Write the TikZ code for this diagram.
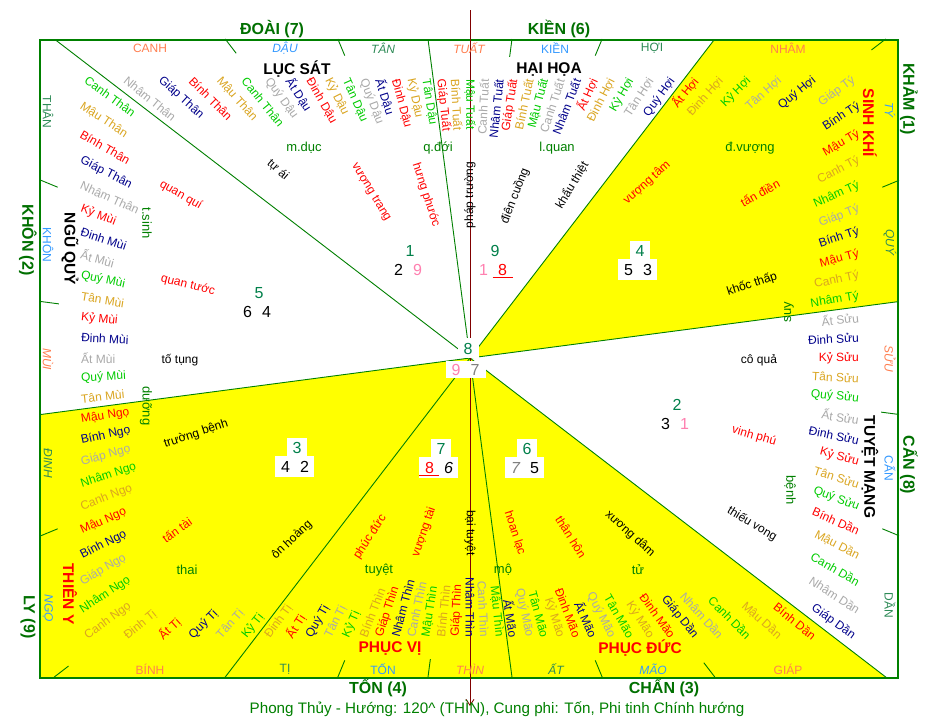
\documentclass[tikz,border=0pt]{standalone}
\usepackage{fontspec}
\setmainfont{Liberation Sans}
\usetikzlibrary{arrows.meta}
\definecolor{kimc}{HTML}{A9A9A9}
\definecolor{thuyc}{HTML}{00008B}
\definecolor{hoac}{HTML}{FF0000}
\definecolor{thoc}{HTML}{DAA520}
\definecolor{mocc}{HTML}{00CC00}
\definecolor{coral}{HTML}{FF7F50}
\definecolor{dblue}{HTML}{3399FF}
\definecolor{tgreen}{HTML}{2E8B57}
\definecolor{fgreen}{HTML}{008000}
\definecolor{dgreen}{HTML}{00804A}
\definecolor{tgram}{HTML}{007000}
\definecolor{yel}{HTML}{FFFF00}
\definecolor{pinkd}{HTML}{FF80B0}
\definecolor{brn}{HTML}{800000}
\newcommand\fpx[1]{\fontsize{#1}{#1}\selectfont}
\tikzset{
  pk/.style={font=\fpx{12},inner sep=0pt},
  ekim/.style={text=kimc}, ethuy/.style={text=thuyc}, ehoa/.style={text=hoac},
  etho/.style={text=thoc}, emoc/.style={text=mocc},
  mtn/.style={font=\fpx{12},inner sep=0pt},
  tgl/.style={font=\bfseries\fpx{16},text=tgram,inner sep=0pt},
  sect/.style={font=\bfseries\fpx{15.5},inner sep=0pt},
  star/.style={font=\fpx{12},inner sep=0pt},
  stg/.style={font=\fpx{13},text=fgreen,inner sep=0pt},
  dg/.style={font=\fpx{16},inner sep=0pt},
  gl/.style={draw=fgreen,line width=0.9pt},
}
\newcommand\pk[3]{%
 \pgfmathsetmacro\pkTh{mod(36-3*(#1)+720,360)}%
 \pgfmathsetmacro\pkC{cos(\pkTh)}%
 \pgfmathsetmacro\pkS{sin(\pkTh)}%
 \pgfmathsetmacro\pkT{min(389/max(abs(\pkC),0.03),279/max(abs(\pkS),0.03))}%
 \pgfmathsetmacro\pkX{470+\pkT*\pkC}%
 \pgfmathsetmacro\pkY{358-\pkT*\pkS}%
 \pgfmathtruncatemacro\pkK{#1}%
 \pgfmathtruncatemacro\pkL{(\pkTh>=90)&&(\pkTh<270)}%
 \ifnum\pkL=1
  \node[pk,#3,anchor=west,rotate=\pkTh-180] (pk\pkK) at (\pkX,\pkY) {#2};%
 \else
  \node[pk,#3,anchor=east,rotate=\pkTh] (pk\pkK) at (\pkX,\pkY) {#2};%
 \fi}
\newcommand\pkp[4]{\pk{5*#1+#2}{#3}{#4}\pk{5*#1+5+#2}{#3}{#4}}
\newcommand\fsg[6]{%
 \fill[white] (#2-10,#3-10) rectangle (#2+10,#3+9);
 \fill[white] (#2-22,#3+8) rectangle (#2+17,#3+29);
 \node[dg,text=dgreen] (#1t) at (#2,#3) {#4};
 \node[dg] (#1l) at (#2-11.5,#3+19) {#5};
 \node[dg] (#1r) at (#2+7.5,#3+19) {#6};}
\begin{document}
\begin{tikzpicture}[x=1pt,y=-1pt]
\useasboundingbox (0,0) rectangle (938,718);
\fill[white] (0,0) rectangle (938,718);
\coordinate (O) at (470,358);
% yellow sectors
\fill[yel] (O) -- (714,40) -- (898,40) -- (898,301.65) -- cycle;
\fill[yel] (O) -- (887,678) -- (512.1,678) -- cycle;
\fill[yel] (O) -- (512.1,678) -- (224.5,678) -- cycle;
\fill[yel] (O) -- (224.5,678) -- (40,678) -- (40,414.6) -- cycle;
% trigram boundary lines
\foreach \p in {(898,301.65),(714,40),(428.1,40),(55.6,40),(40,414.6),(224.5,678),(512.1,678),(887,678)}
  \draw[gl] (O) -- \p;
% ticks
\foreach \a in {37.5,22.5,-7.5,-22.5,-52.5,-67.5,-97.5,-112.5,-142.5,-157.5,172.5,157.5,127.5,112.5,82.5,67.5}{
  \pgfmathsetmacro\tc{cos(\a)}
  \pgfmathsetmacro\tS{sin(\a)}
  \pgfmathsetmacro\tT{min(429/max(abs(\tc),0.03),319/max(abs(\tS),0.03))}
  \draw[gl] ({470+\tT*\tc},{358-\tT*\tS}) -- ({470+(\tT-18)*\tc},{358-(\tT-18)*\tS});
}
% frame
\draw[fgreen,line width=1.3pt] (40,40) rectangle (898,678);
% axis
\draw[brn,line width=0.8pt,-{Straight Barb[length=6pt,width=8pt]}] (470,10) -- (470,706);
% 120 labels
\pkp{0}{0}{Giáp Tý}{ekim}\pkp{0}{1}{Bính Tý}{ethuy}\pkp{0}{2}{Mậu Tý}{ehoa}\pkp{0}{3}{Canh Tý}{etho}\pkp{0}{4}{Nhâm Tý}{emoc}
\pkp{2}{0}{Ất Sửu}{ekim}\pkp{2}{1}{Đinh Sửu}{ethuy}\pkp{2}{2}{Kỷ Sửu}{ehoa}\pkp{2}{3}{Tân Sửu}{etho}\pkp{2}{4}{Quý Sửu}{emoc}
\pkp{4}{0}{Bính Dần}{ehoa}\pkp{4}{1}{Mậu Dần}{etho}\pkp{4}{2}{Canh Dần}{emoc}\pkp{4}{3}{Nhâm Dần}{ekim}\pkp{4}{4}{Giáp Dần}{ethuy}
\pkp{6}{0}{Đinh Mão}{ehoa}\pkp{6}{1}{Kỷ Mão}{etho}\pkp{6}{2}{Tân Mão}{emoc}\pkp{6}{3}{Quý Mão}{ekim}\pkp{6}{4}{Ất Mão}{ethuy}
\pkp{8}{0}{Mậu Thìn}{emoc}\pkp{8}{1}{Canh Thìn}{ekim}\pkp{8}{2}{Nhâm Thìn}{ethuy}\pkp{8}{3}{Giáp Thìn}{ehoa}\pkp{8}{4}{Bính Thìn}{etho}
\pkp{10}{0}{Kỷ Tị}{emoc}\pkp{10}{1}{Tân Tị}{ekim}\pkp{10}{2}{Quý Tị}{ethuy}\pkp{10}{3}{Ất Tị}{ehoa}\pkp{10}{4}{Đinh Tị}{etho}
\pkp{12}{0}{Canh Ngọ}{etho}\pkp{12}{1}{Nhâm Ngọ}{emoc}\pkp{12}{2}{Giáp Ngọ}{ekim}\pkp{12}{3}{Bính Ngọ}{ethuy}\pkp{12}{4}{Mậu Ngọ}{ehoa}
\pkp{14}{0}{Tân Mùi}{etho}\pkp{14}{1}{Quý Mùi}{emoc}\pkp{14}{2}{Ất Mùi}{ekim}\pkp{14}{3}{Đinh Mùi}{ethuy}\pkp{14}{4}{Kỷ Mùi}{ehoa}
\pkp{16}{0}{Nhâm Thân}{ekim}\pkp{16}{1}{Giáp Thân}{ethuy}\pkp{16}{2}{Bính Thân}{ehoa}\pkp{16}{3}{Mậu Thân}{etho}\pkp{16}{4}{Canh Thân}{emoc}
\pkp{18}{0}{Quý Dậu}{ekim}\pkp{18}{1}{Ất Dậu}{ethuy}\pkp{18}{2}{Đinh Dậu}{ehoa}\pkp{18}{3}{Kỷ Dậu}{etho}\pkp{18}{4}{Tân Dậu}{emoc}
\pkp{20}{0}{Giáp Tuất}{ehoa}\pkp{20}{1}{Bính Tuất}{etho}\pkp{20}{2}{Mậu Tuất}{emoc}\pkp{20}{3}{Canh Tuất}{ekim}\pkp{20}{4}{Nhâm Tuất}{ethuy}
\pkp{22}{0}{Ất Hợi}{ehoa}\pkp{22}{1}{Đinh Hợi}{etho}\pkp{22}{2}{Kỷ Hợi}{emoc}\pkp{22}{3}{Tân Hợi}{ekim}\pkp{22}{4}{Quý Hợi}{ethuy}
% 24 mountains
\node[mtn,text=coral] (mCanh) at (150,48) {CANH};
\node[mtn,text=dblue,font=\itshape\fpx{12}] (mDau) at (285,48) {DẬU};
\node[mtn,text=tgreen,font=\itshape\fpx{12}] (mTan) at (383,48) {TÂN};
\node[mtn,text=coral,font=\itshape\fpx{12}] (mTuat) at (469,48) {TUẤT};
\node[mtn,text=dblue] (mKien) at (555,48) {KIỀN};
\node[mtn,text=tgreen] (mHoi) at (652,48) {HỢI};
\node[mtn,text=coral] (mNham) at (788,48) {NHÂM};
\node[mtn,text=dblue,font=\itshape\fpx{12},rotate=-90] (mTy) at (890,110) {TÝ};
\node[mtn,text=tgreen,font=\itshape\fpx{12},rotate=-90] (mQuy) at (890,242) {QUÝ};
\node[mtn,text=coral,font=\itshape\fpx{12},rotate=-90] (mSuu) at (890,359) {SỬU};
\node[mtn,text=dblue,rotate=-90] (mCan) at (890,468) {CẤN};
\node[mtn,text=tgreen,rotate=-90] (mDan) at (890,605) {DẦN};
\node[mtn,text=coral] (mBinh) at (150,669) {BÍNH};
\node[mtn,text=tgreen] (mTi) at (285,669) {TỊ};
\node[mtn,text=dblue] (mTon) at (383,669) {TỐN};
\node[mtn,text=coral,font=\itshape\fpx{12}] (mThin) at (470,669) {THÌN};
\node[mtn,text=tgreen,font=\itshape\fpx{12}] (mAt) at (556,669) {ẤT};
\node[mtn,text=dblue,font=\itshape\fpx{12}] (mMao) at (653,669) {MÃO};
\node[mtn,text=coral] (mGiap) at (788,669) {GIÁP};
\node[mtn,text=tgreen,rotate=-90] (mThan) at (48,112) {THÂN};
\node[mtn,text=dblue,rotate=-90] (mKhon) at (48,245) {KHÔN};
\node[mtn,text=coral,font=\itshape\fpx{12},rotate=-90] (mMui) at (48,359) {MÙI};
\node[mtn,text=tgreen,font=\itshape\fpx{12},rotate=-90] (mDinh) at (48,463) {ĐINH};
\node[mtn,text=dblue,font=\itshape\fpx{12},rotate=-90] (mNgo) at (48,608) {NGỌ};
% trigram labels
\node[tgl] (tDoai) at (272,29) {ĐOÀI (7)};
\node[tgl] (tKien) at (559,29) {KIỀN (6)};
\node[tgl,rotate=-90] (tKham) at (909,99) {KHẢM (1)};
\node[tgl,rotate=-90] (tCan) at (909,465) {CẤN (8)};
\node[tgl] (tChan) at (664,688) {CHẤN (3)};
\node[tgl] (tTon) at (378,688) {TỐN (4)};
\node[tgl,rotate=-90] (tLy) at (28,617) {LY (9)};
\node[tgl,rotate=-90] (tKhon) at (28,240) {KHÔN (2)};
% sector names
\node[sect] (nLS) at (297,69) {LỤC SÁT};
\node[sect] (nHH) at (549,69) {HẠI HỌA};
\node[sect,text=red,rotate=-90] (nSK) at (870,123) {SINH KHÍ};
\node[sect,rotate=-90] (nTM) at (870,467) {TUYỆT MẠNG};
\node[sect,text=red] (nPD) at (640,648) {PHỤC ĐỨC};
\node[sect,text=red] (nPV) at (390,648) {PHỤC VỊ};
\node[sect,text=red,rotate=-90] (nTY) at (70,594) {THIÊN Y};
\node[sect,rotate=-90] (nNQ) at (70,249) {NGŨ QUỶ};
% 12 stages
\node[stg] (g1) at (304,148) {m.dục};
\node[stg] (g2) at (438,148) {q.đới};
\node[stg] (g3) at (557,148) {l.quan};
\node[stg] (g4) at (750,148) {đ.vượng};
\node[stg,rotate=90] (g5) at (789,312) {suy};
\node[stg,rotate=-90] (g6) at (790,490) {bệnh};
\node[stg] (g7) at (638,570) {tử};
\node[stg] (g8) at (503,570) {mộ};
\node[stg] (g9) at (379,570) {tuyệt};
\node[stg] (g10) at (187,570) {thai};
\node[stg,rotate=-90] (g11) at (146,406) {dưỡng};
\node[stg,rotate=-90] (g12) at (147,223) {t.sinh};
% 24 stars
\node[star,text=black,rotate=-41] (s1) at (278,170) {tự ái};
\node[star,text=red,rotate=-59] (s2) at (371,192) {vượng trang};
\node[star,text=red,rotate=-72] (s3) at (426,195) {hưng phước};
\node[star,text=black,rotate=90] (s4) at (470,195) {pháp trường};
\node[star,text=black,rotate=69] (s5) at (515,196) {điên cuồng};
\node[star,text=black,rotate=59] (s6) at (572,185) {khẩu thiệt};
\node[star,text=red,rotate=42] (s7) at (647,183) {vượng tâm};
\node[star,text=red,rotate=29] (s8) at (760,193) {tấn điền};
\node[star,text=black,rotate=18] (s9) at (752,284) {khốc thấp};
\node[star,text=black] (s10) at (759,360) {cô quả};
\node[star,text=red,rotate=-16] (s11) at (754,436) {vinh phú};
\node[star,text=black,rotate=-31] (s12) at (752,524) {thiếu vong};
\node[star,text=black,rotate=-42] (s13) at (630,534) {xương dâm};
\node[star,text=red,rotate=-58] (s14) at (571,537) {thân hôn};
\node[star,text=red,rotate=-72] (s15) at (515,533) {hoan lạc};
\node[star,text=black,rotate=-90] (s16) at (470,533) {bại tuyệt};
\node[star,text=red,rotate=71] (s17) at (424,532) {vượng tài};
\node[star,text=red,rotate=57] (s18) at (370,537) {phúc đức};
\node[star,text=black,rotate=43] (s19) at (292,540) {ôn hoàng};
\node[star,text=red,rotate=35] (s20) at (177,530) {tấn tài};
\node[star,text=black,rotate=18] (s21) at (196,434) {trường bệnh};
\node[star,text=black] (s22) at (180,360) {tố tụng};
\node[star,text=red,rotate=-14] (s23) at (188,285) {quan tước};
\node[star,text=red,rotate=-30] (s24) at (181,195) {quan quí};
% flying stars
\fsg{fD}{410}{251}{1}{2}{\textcolor{pinkd}{9}}
\fsg{fK}{495}{251}{9}{\textcolor{pinkd}{1}}{\textcolor{red}{8}}
\draw[red,line width=0.8pt] (492.5,277) -- (512.5,277);
\fsg{fKh}{640}{251}{4}{5}{3}
\fsg{fC}{677}{405}{2}{3}{\textcolor{pinkd}{1}}
\fsg{fCh}{527}{449}{6}{\textcolor{gray}{\itshape 7}}{5}
\fsg{fT}{441}{449}{7}{\textcolor{red}{8}}{\itshape 6}
\draw[red,line width=0.8pt] (419,475) -- (439,475);
\fsg{fL}{297}{448}{3}{4}{2}
\fsg{fKo}{259}{293}{5}{6}{4}
\fill[white] (458,338) rectangle (479,358);
\fill[white] (446,361) rectangle (486,378);
\node[dg,text=dgreen] (fOt) at (468,349) {8};
\node[dg,text=pinkd] (fOl) at (456,370) {9};
\node[dg,text=gray] (fOr) at (475,370) {7};
% caption
\node[font=\fpx{15.2},text=fgreen,inner sep=0pt] (cap) at (497,708) {Phong Thủy - Hướng: 120\textasciicircum{} (THÌN), Cung phi: Tốn, Phi tinh Chính hướng};
\end{tikzpicture}
\end{document}
